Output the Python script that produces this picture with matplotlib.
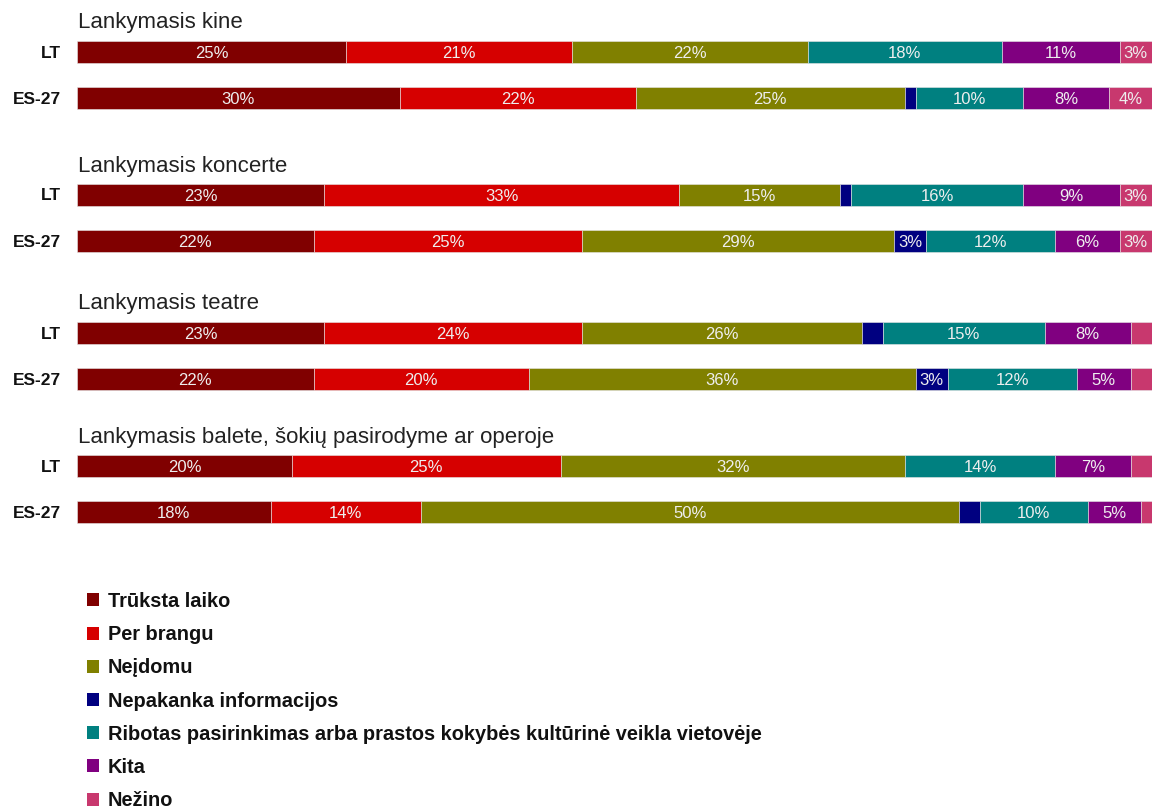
import matplotlib
matplotlib.use("Agg")
import matplotlib.pyplot as plt
from matplotlib.patches import Patch

plt.rcParams['font.family'] = ['Liberation Sans', 'DejaVu Sans']

categories = [
    "Trūksta laiko",
    "Per brangu",
    "Neįdomu",
    "Nepakanka informacijos",
    "Ribotas pasirinkimas arba prastos kokybės kultūrinė veikla vietovėje",
    "Kita",
    "Nežino",
]
colors = ["#800000", "#d60000", "#808000", "#000080", "#008080", "#800080", "#c8386e"]

groups = [
    "Lankymasis kine",
    "Lankymasis koncerte",
    "Lankymasis teatre",
    "Lankymasis balete, šokių pasirodyme ar operoje",
]
rows = ["LT", "ES-27"]

# percentages per category, in the order of `categories`
kine_lt = [25, 21, 22, 0, 18, 11, 3]
kine_es = [30, 22, 25, 1, 10, 8, 4]
koncertas_lt = [23, 33, 15, 1, 16, 9, 3]
koncertas_es = [22, 25, 29, 3, 12, 6, 3]
teatras_lt = [23, 24, 26, 2, 15, 8, 2]
teatras_es = [22, 20, 36, 3, 12, 5, 2]
baletas_lt = [20, 25, 32, 0, 14, 7, 2]
baletas_es = [18, 14, 50, 2, 10, 5, 1]

data = [
    (kine_lt, kine_es),
    (koncertas_lt, koncertas_es),
    (teatras_lt, teatras_es),
    (baletas_lt, baletas_es),
]

W, H = 1153, 809
fig = plt.figure(figsize=(W / 100, H / 100), dpi=100)
x0, x1 = 77, 1152
ax = fig.add_axes([x0 / W, 0, (x1 - x0) / W, 1])
ax.set_xlim(0, 100)
ax.set_ylim(H, 0)
ax.axis("off")

# vertical layout (pixel rows)
title_y = [22, 166, 303, 437]
bar_y = [(52, 98), (195, 241), (333, 379), (466, 512)]
bar_h = 22

for g, (title, pair) in enumerate(zip(groups, data)):
    ax.text(0.1, title_y[g], title, fontsize=16, ha="left", va="center", color="#222222")
    for r, vals in enumerate(pair):
        y = bar_y[g][r]
        left = 0
        for c, v in enumerate(vals):
            if v > 0:
                ax.barh(y, v, left=left, height=bar_h, color=colors[c],
                        edgecolor="#e6e6e6", linewidth=0.4)
                if v >= 3:
                    ax.text(left + v / 2, y + 1, f"{v}%", ha="center", va="center",
                            fontsize=12, color="#eeeeee")
            left += v
        fig.text(61 / W, 1 - (y + 1) / H, rows[r], ha="right", va="center",
                 fontsize=12.5, fontweight="bold", color="#111111")

handles = [Patch(facecolor=col, edgecolor="none") for col in colors]
leg = fig.legend(handles, categories, loc="upper left",
                 bbox_to_anchor=(87 / W, 1 - 592 / H), frameon=False,
                 prop={"weight": "bold", "size": 14.4}, handlelength=0.62,
                 handleheight=0.62, handletextpad=0.42, labelspacing=0.71,
                 borderpad=0, borderaxespad=0)
for t in leg.get_texts():
    t.set_color("#111111")

fig.savefig("out.png", dpi=100)
